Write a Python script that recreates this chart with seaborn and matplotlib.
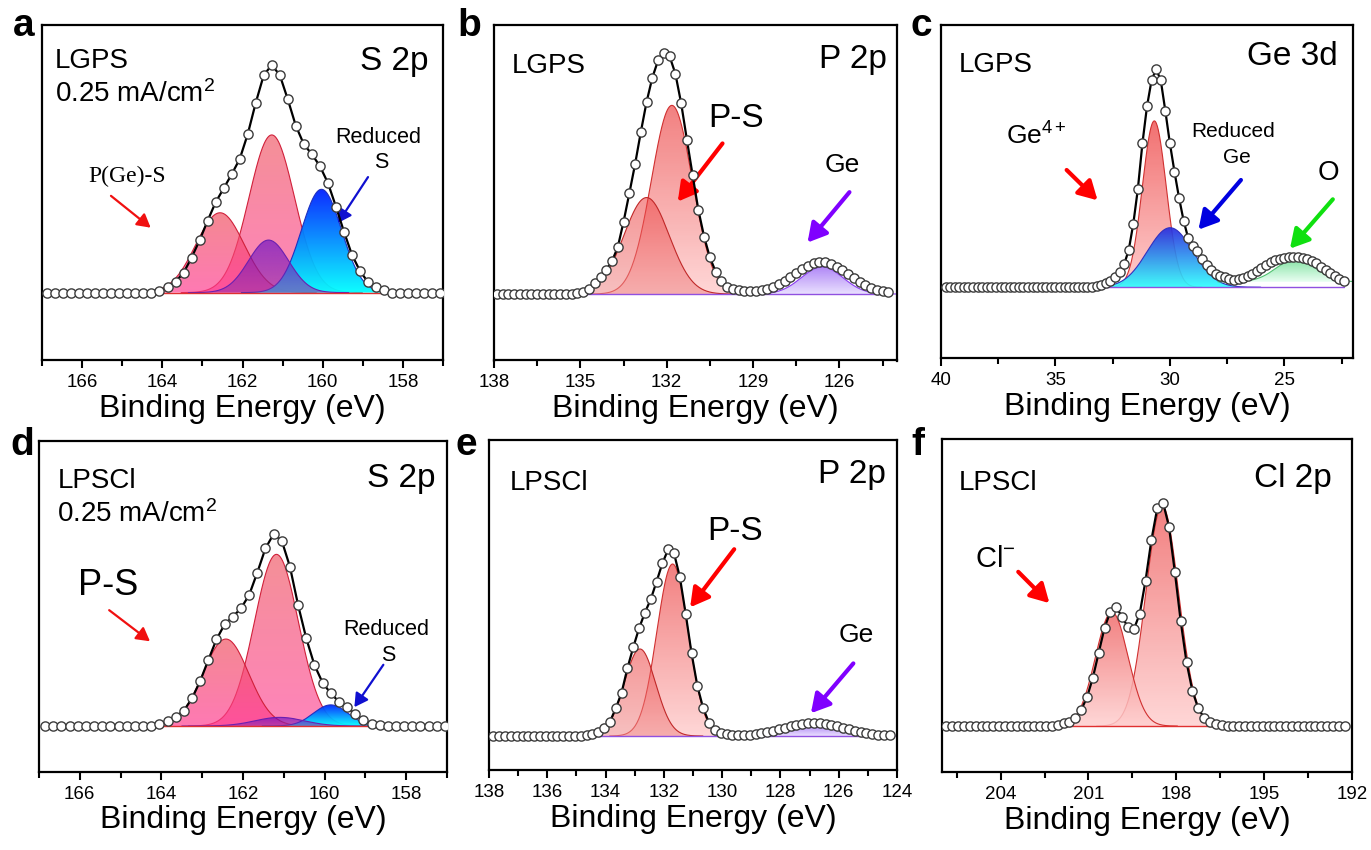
import numpy as np
import matplotlib
matplotlib.use('Agg')
import matplotlib.pyplot as plt
from matplotlib.patches import Polygon
from matplotlib.colors import to_rgba
from matplotlib.ticker import MultipleLocator
import seaborn as sns

sns.set_style('ticks')
plt.rcParams['font.family'] = ['Liberation Sans', 'DejaVu Sans']
plt.rcParams['mathtext.fontset'] = 'custom'
plt.rcParams['mathtext.rm'] = 'Liberation Sans'
plt.rcParams['mathtext.it'] = 'Liberation Sans:italic'
plt.rcParams['mathtext.bf'] = 'Liberation Sans:bold'
plt.rcParams['text.color'] = 'black'
plt.rcParams['axes.labelcolor'] = 'black'
plt.rcParams['xtick.color'] = 'black'

# ---------------- data (binding energy grid = 0.2 eV acquisition step) ----------------
# (a) LGPS S 2p
a_be = np.round(166.87 - 0.2 * np.arange(50), 2)
a_int = [0, 0, 0, 0, 0, 0, 0, 0, 0, 0, 0, 0, 0, 0,
         0.5, 2.4, 4.8, 8.7, 15.4, 23.0, 31.6, 39.7, 45.8, 52.0,
         58.7, 69.6, 83.4, 95.6, 100.0, 95.6, 84.9, 73.3, 65.2, 60.8,
         55.6, 48.2, 37.8, 26.8, 16.6, 9.5, 4.6, 2.4, 1.2,
         0, 0, 0, 0, 0, 0, 0]
a_pos = [161.27, 162.56, 160.03, 161.35]
a_amp = [69.3, 35.1, 45.4, 23.1]
a_sig = [0.565, 0.60, 0.50, 0.50]

# (b) LGPS P 2p
b_be = np.round(137.9 - 0.2 * np.arange(69), 2)
b_int = [0, 0, 0, 0, 0, 0, 0, 0, 0, 0, 0, 0, 0, 0,
         0.3, 0.8, 2.2, 4.7, 6.9, 10.0, 13.7, 19.5, 30.0, 41.8,
         53.9, 67.3, 79.8, 89.9, 97.1, 100.0, 98.8, 91.6, 79.4, 64.2,
         49.4, 34.9, 23.8, 15.2, 9.3, 5.5, 3.0, 2.0, 1.5, 1.2,
         1.2, 1.3, 1.6, 2.1, 2.9, 4.0, 5.4, 7.0, 8.7, 10.4,
         11.8, 12.9, 13.4, 13.3, 12.6, 11.4, 9.9, 8.2, 6.5, 4.9,
         3.6, 2.5, 1.8, 1.3, 1.0]
b_pos = [131.82, 132.7, 126.6]
b_amp = [78.4, 40.1, 11.3]
b_sig = [0.71, 0.79, 0.72]

# (c) LGPS Ge 3d
c_be = np.round(39.8 - 0.2 * np.arange(88), 2)
c_int = [0, 0, 0, 0, 0, 0, 0, 0, 0, 0, 0, 0, 0, 0, 0, 0,
         0, 0, 0, 0, 0, 0, 0, 0, 0, 0, 0, 0, 0, 0, 0, 0,
         0.3, 0.6, 1.1, 1.9, 3.0, 4.6, 7.0, 10.5,
         17.0, 29.0, 45.0, 66.0, 83.0, 95.0, 100.0, 95.0, 81.0, 66.0,
         53.0, 41.0, 30.5, 22.5, 19.0, 16.5, 13.0, 10.2, 8.0, 6.3,
         5.2, 4.5, 3.8, 3.5, 3.8, 4.4, 5.3, 6.3, 7.6, 9.0,
         10.3, 11.4, 12.3, 13.0, 13.5, 13.8, 13.9, 13.8, 13.4, 12.8,
         12.0, 10.9, 9.5, 8.0, 6.5, 5.0, 3.8, 2.9]
c_pos = [30.68, 29.99, 24.5]
c_amp = [76.3, 27.3, 10.4]
c_sig = [0.52, 0.99, 0.85]
c_bg = [0, 0, 2.5]

# (d) LPSCl S 2p
d_be = np.round(166.85 - 0.2 * np.arange(50), 2)
d_int = [0, 0, 0, 0, 0, 0, 0, 0, 0, 0, 0, 0, 0, 0,
         0.8, 2.5, 4.9, 8.0, 14.4, 23.4, 34.4, 45.1, 53.0, 56.9,
         61.3, 68.2, 79.9, 92.5, 100.0, 96.5, 83.0, 63.0, 45.7, 31.8,
         22.6, 17.0, 12.7, 9.7, 6.2, 3.1, 1.0, 0.3,
         0, 0, 0, 0, 0, 0, 0, 0]
d_pos = [161.18, 162.42, 159.85, 161.1]
d_amp = [89.4, 45.3, 11.0, 4.5]
d_sig = [0.54, 0.56, 0.42, 0.60]

# (e) LPSCl P 2p
e_be = np.round(137.85 - 0.2 * np.arange(69), 2)
e_int = [0, 0, 0, 0, 0, 0, 0, 0, 0, 0, 0, 0, 0, 0, 0, 0,
         0.5, 1.0, 2.0, 4.1, 7.7, 14.8, 23.2, 36.3, 47.5, 57.7,
         66.1, 73.2, 82.7, 92.5, 100.0, 97.8, 85.0, 65.3, 44.3, 26.8,
         14.8, 7.1, 3.2, 1.8, 1.0, 0.7, 0.6, 0.6, 0.8, 1.1,
         1.5, 2.1, 2.8, 3.6, 4.5, 5.3, 6.0, 6.6, 7.0, 7.1,
         7.0, 6.6, 6.0, 5.2, 4.4, 3.5, 2.7, 2.0, 1.4, 1.0,
         0.7, 0.5, 0.4]
e_pos = [131.7, 132.82, 126.85]
e_amp = [92.1, 46.6, 5.5]
e_sig = [0.54, 0.54, 0.80]

# (f) LPSCl Cl 2p
f_be = np.round(205.85 - 0.2 * np.arange(69), 2)
f_int = [0, 0, 0, 0, 0, 0, 0, 0, 0, 0, 0, 0, 0, 0, 0, 0, 0, 0, 0,
         0.5, 1.2, 1.9, 3.4, 7.2, 12.8, 21.6, 32.8, 44.0, 51.2,
         53.1, 49.0, 44.2, 43.3, 50.2, 65.1, 83.3, 97.5, 100.0, 89.3,
         69.1, 47.0, 28.5, 15.8, 7.9, 3.7, 1.6, 0.8, 0.3,
         0, 0, 0, 0, 0, 0, 0, 0, 0, 0, 0, 0, 0, 0, 0, 0, 0, 0, 0, 0, 0]
f_pos = [198.48, 200.2]
f_amp = [98.5, 51.0]
f_sig = [0.56, 0.56]

# ---------------- styles ----------------
PINK_BIG = ('#F05A66', '#FF4A9A', 0.68, '#D0203A')
PINK_L = ('#F0505E', '#FF3A90', 0.68, '#D0203A')
BLUE = ('#0020FF', '#00FFFF', 0.95, '#2030C0')
PURPLE = ('#5A00C8', '#9A30A8', 0.6, '#6A20B0')
RED_L = ('#F06A6A', '#FFD0D0', 0.85, '#D03030')
RED_D = ('#EE4040', '#F08C8C', 0.55, '#C02828')
GE_P = ('#A070F5', '#E6DAFF', 0.85, '#8A3CF0')
GE4 = ('#F06060', '#FFC8C8', 0.9, '#D03030')
BLUE_C = ('#2828E0', '#30FFFF', 0.92, '#3030C0')
GREEN = ('#78E09A', '#E8FFF2', 0.9, '#50C070')


def gauss(x, c, h, s):
    return h * np.exp(-(x - c) ** 2 / (2 * s ** 2))


def grad_fill(ax, x, y, base, style, z):
    top_c, bot_c, alpha, edge = style
    poly = Polygon(np.column_stack([np.r_[x, x[::-1]], np.r_[y, np.full(len(x), base)]]),
                   closed=True, fc='none', ec='none')
    ax.add_patch(poly)
    t = np.linspace(0, 1, 200)[:, None, None]
    c0 = np.array(to_rgba(bot_c))
    c1 = np.array(to_rgba(top_c))
    img = c0 + (c1 - c0) * t
    img[..., 3] = alpha
    im = ax.imshow(img, extent=(x.min(), x.max(), base, y.max()), origin='lower',
                   aspect='auto', interpolation='bilinear', zorder=z)
    im.set_clip_path(poly)
    ax.plot(x, y, color=edge, lw=0.8, zorder=z + 0.01)


def draw(ax, be, inten, pos, amp, sig, styles, xlim, ylim, major, minor, base_color, bgs=None):
    if bgs is None:
        bgs = [0] * len(pos)
    for i, (c, h, s) in enumerate(zip(pos, amp, sig)):
        x = np.linspace(c - 4 * s, c + 4 * s, 300)
        grad_fill(ax, x, bgs[i] + gauss(x, c, h, s), bgs[i], styles[i], 2 + i * 0.1)
    ax.plot([be.min(), be.max()], [0, 0], color=base_color, lw=1.0, zorder=3)
    sns.lineplot(x=be, y=inten, ax=ax, color='black', lw=1.6, zorder=4)
    sns.scatterplot(x=be, y=inten, ax=ax, s=44, color='white', edgecolor='#3c3c3c',
                    linewidth=1.0, zorder=5)
    ax.set_xlim(*xlim)
    ax.set_ylim(*ylim)
    ax.xaxis.set_major_locator(MultipleLocator(major))
    ax.xaxis.set_minor_locator(MultipleLocator(minor))
    ax.set_yticks([])
    ax.set_ylabel('')
    ax.set_xlabel('Binding Energy (eV)', fontsize=23, labelpad=2)
    ax.tick_params(axis='x', which='major', direction='out', length=6, width=1.5,
                   labelsize=13.5, pad=4, colors='black')
    ax.tick_params(axis='x', which='minor', direction='out', length=4, width=1.5, colors='black')
    for sp in ax.spines.values():
        sp.set_linewidth(1.6)
        sp.set_color('black')


def label(ax, s, x, y, size, ha='left', **kw):
    ax.text(x, y, s, transform=ax.transAxes, fontsize=size, ha=ha, va='baseline',
            color='black', **kw)


def arrow(ax, start, end, color, thick=True):
    if thick:
        props = dict(arrowstyle='-|>,head_length=0.8,head_width=0.45', color=color, lw=3,
                     mutation_scale=14, shrinkA=0, shrinkB=0)
    else:
        props = dict(arrowstyle='-|>,head_length=0.8,head_width=0.45', color=color, lw=1.6,
                     mutation_scale=10, shrinkA=0, shrinkB=0)
    ax.annotate('', xy=end, xytext=start, xycoords='axes fraction',
                textcoords='axes fraction', arrowprops=props)


W, H = 1371, 850
fig = plt.figure(figsize=(13.71, 8.5), dpi=100)


def add_ax(l, t, r, b):
    return fig.add_axes([l / W, 1 - b / H, (r - l) / W, (b - t) / H])


ax_a = add_ax(42, 25, 443, 360)
ax_b = add_ax(494, 24.5, 897, 360.5)
ax_c = add_ax(941, 25, 1353, 358.3)
ax_d = add_ax(39, 440.7, 447, 771.7)
ax_e = add_ax(489, 440, 897, 770)
ax_f = add_ax(942, 439.3, 1352, 772.3)

draw(ax_a, a_be, a_int, a_pos, a_amp, a_sig, [PINK_BIG, PINK_L, BLUE, PURPLE],
     (167, 157), (-29.6, 117.6), 2, 1, '#E03030')
draw(ax_b, b_be, b_int, b_pos, b_amp, b_sig, [RED_L, RED_D, GE_P],
     (138, 124), (-27.6, 112.0), 3, 1.5, '#9050E0')
draw(ax_c, c_be, c_int, c_pos, c_amp, c_sig, [GE4, BLUE_C, GREEN],
     (40, 22), (-32.6, 120.3), 5, 2.5, '#9050E0', bgs=c_bg)
draw(ax_d, d_be, d_int, d_pos, d_amp, d_sig, [PINK_BIG, PINK_L, BLUE, PURPLE],
     (167, 157), (-23.8, 148.6), 2, 1, '#E03030')
draw(ax_e, e_be, e_int, e_pos, e_amp, e_sig, [RED_L, RED_D, GE_P],
     (138, 124), (-18.2, 158.5), 2, 1, '#9050E0')
draw(ax_f, f_be, f_int, f_pos, f_amp, f_sig, [RED_L, RED_L],
     (206, 192), (-20.7, 128.4), 3, 1.5, '#E03030')

# ---------------- annotations ----------------
label(ax_a, 'LGPS', 0.032, 0.872, 20)
label(ax_a, '0.25 mA/cm$^{2}$', 0.032, 0.771, 20)
label(ax_a, 'S 2p', 0.963, 0.866, 24, ha='right')
label(ax_a, 'P(Ge)-S', 0.212, 0.532, 17, ha='center', family='Liberation Serif')
label(ax_a, 'Reduced', 0.838, 0.647, 15.5, ha='center')
label(ax_a, 'S', 0.845, 0.572, 15.5, ha='center')
arrow(ax_a, (0.172, 0.490), (0.271, 0.395), '#F01010', thick=False)
arrow(ax_a, (0.813, 0.546), (0.738, 0.409), '#1010D0', thick=False)

label(ax_b, 'LGPS', 0.045, 0.857, 20)
label(ax_b, 'P 2p', 0.976, 0.870, 24, ha='right')
label(ax_b, 'P-S', 0.600, 0.696, 24, ha='center')
label(ax_b, 'Ge', 0.863, 0.562, 19, ha='center')
arrow(ax_b, (0.567, 0.646), (0.456, 0.473), '#FF0000')
arrow(ax_b, (0.882, 0.501), (0.778, 0.351), '#8000FF')

label(ax_c, 'LGPS', 0.042, 0.860, 20)
label(ax_c, 'Ge 3d', 0.964, 0.880, 24, ha='right')
label(ax_c, 'Ge$^{4+}$', 0.158, 0.640, 19)
label(ax_c, 'Reduced', 0.709, 0.665, 15, ha='center')
label(ax_c, 'Ge', 0.718, 0.586, 15, ha='center')
label(ax_c, 'O', 0.940, 0.535, 20, ha='center')
arrow(ax_c, (0.305, 0.565), (0.380, 0.474), '#FF0000')
arrow(ax_c, (0.728, 0.535), (0.625, 0.386), '#0000E0')
arrow(ax_c, (0.951, 0.477), (0.847, 0.329), '#10E010')

label(ax_d, 'LPSCl', 0.045, 0.856, 20)
label(ax_d, '0.25 mA/cm$^{2}$', 0.045, 0.755, 20)
label(ax_d, 'S 2p', 0.971, 0.861, 24, ha='right')
label(ax_d, 'P-S', 0.170, 0.534, 26, ha='center')
label(ax_d, 'Reduced', 0.850, 0.413, 15.5, ha='center')
label(ax_d, 'S', 0.856, 0.335, 15.5, ha='center')
arrow(ax_d, (0.172, 0.488), (0.272, 0.394), '#F01010', thick=False)
arrow(ax_d, (0.844, 0.323), (0.773, 0.195), '#1010D0', thick=False)

label(ax_e, 'LPSCl', 0.051, 0.848, 20)
label(ax_e, 'P 2p', 0.972, 0.869, 24, ha='right')
label(ax_e, 'P-S', 0.603, 0.697, 24, ha='center')
label(ax_e, 'Ge', 0.901, 0.389, 19, ha='center')
arrow(ax_e, (0.601, 0.669), (0.493, 0.493), '#FF0000')
arrow(ax_e, (0.893, 0.323), (0.789, 0.172), '#8000FF')

label(ax_f, 'LPSCl', 0.042, 0.848, 20)
label(ax_f, 'Cl 2p', 0.950, 0.858, 24, ha='right')
label(ax_f, 'Cl$^{-}$', 0.080, 0.617, 21)
arrow(ax_f, (0.186, 0.602), (0.262, 0.508), '#FF0000')

for s, (px, py) in zip('abcdef', [(13, 36), (457, 36), (911, 36), (10, 455), (456, 455), (911, 455)]):
    fig.text(px / W, 1 - py / H, s, fontsize=28, fontweight='bold', va='baseline', ha='left',
             color='black')

fig.savefig('out.png', dpi=100)
